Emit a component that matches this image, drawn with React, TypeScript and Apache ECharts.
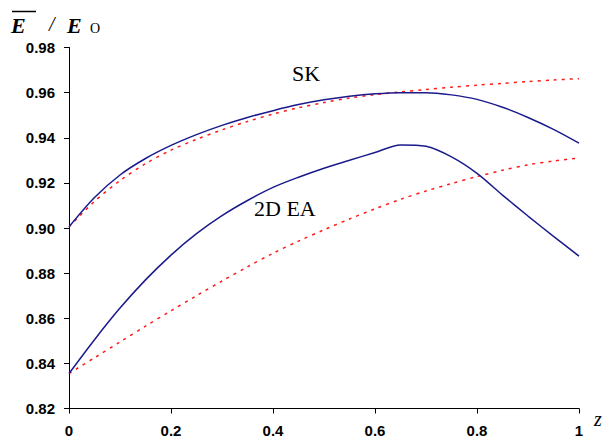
import React, { useEffect, useRef } from "react";
import * as echarts from "echarts";

const zValues = [0, 0.05, 0.1, 0.15, 0.2, 0.25, 0.3, 0.35, 0.4, 0.45, 0.5, 0.55, 0.6, 0.65, 0.7, 0.75, 0.8, 0.85, 0.9, 0.95, 1.0];
const skSolid = [0.9005, 0.9135, 0.9235, 0.9308, 0.9366, 0.9414, 0.9455, 0.949, 0.952, 0.9547, 0.9568, 0.9584, 0.9595, 0.96, 0.96, 0.959, 0.957, 0.9535, 0.949, 0.9437, 0.9376];
const skDotted = [0.9005, 0.9118, 0.921, 0.9285, 0.9345, 0.9393, 0.9435, 0.9472, 0.9505, 0.9533, 0.9556, 0.9576, 0.9591, 0.9603, 0.9614, 0.9624, 0.9633, 0.9641, 0.9649, 0.9656, 0.9662];
const eaSolid = [0.8355, 0.8505, 0.8645, 0.877, 0.888, 0.8975, 0.9055, 0.9122, 0.918, 0.9225, 0.9265, 0.93, 0.9335, 0.9368, 0.9362, 0.9315, 0.9242, 0.9146, 0.9053, 0.8963, 0.8875];
const eaDotted = [0.8355, 0.8425, 0.8495, 0.8565, 0.8633, 0.87, 0.8765, 0.8828, 0.8888, 0.8942, 0.8992, 0.904, 0.9085, 0.9127, 0.9164, 0.9197, 0.9228, 0.9256, 0.928, 0.9297, 0.931];

const pairs = (ys: number[]) => zValues.map((x, i) => [x, ys[i]]);

const serif = "'Liberation Serif', 'Times New Roman', 'DejaVu Serif', serif";

export default function App() {
  const ref = useRef<HTMLDivElement>(null);
  useEffect(() => {
    if (!ref.current) return;
    const chart = echarts.init(ref.current, null, { renderer: "svg" });
    const axisLabel = { color: "#000", fontFamily: "Liberation Sans", fontWeight: "bold" as const, fontSize: 15 };
    const solid = { color: "#1a1a8c", width: 1.5, type: "solid" as const };
    const dotted = { color: "#ff1a1a", width: 1.5, type: [3, 5] as any };
    chart.setOption({
      animation: false,
      backgroundColor: "#fff",
      grid: { left: 69, right: 27, top: 47.5, bottom: 39.5, containLabel: false },
      xAxis: {
        type: "value", min: 0, max: 1, interval: 0.2,
        axisLine: { show: true, lineStyle: { color: "#000", width: 1 } },
        axisTick: { show: true, inside: false, length: 5, lineStyle: { color: "#000" } },
        splitLine: { show: false },
        axisLabel: { ...axisLabel, margin: 14, formatter: (v: number) => String(Math.round(v * 10) / 10) },
      },
      yAxis: {
        type: "value", min: 0.82, max: 0.98, interval: 0.02,
        axisLine: { show: true, lineStyle: { color: "#000", width: 1 } },
        axisTick: { show: true, inside: false, length: 5, lineStyle: { color: "#000" } },
        splitLine: { show: false },
        axisLabel: { ...axisLabel, margin: 14, formatter: (v: number) => v.toFixed(2) },
      },
      series: [
        { type: "line", data: pairs(skDotted), smooth: 0.3, symbol: "none", lineStyle: dotted, z: 2 },
        { type: "line", data: pairs(eaDotted), smooth: 0.3, symbol: "none", lineStyle: dotted, z: 2 },
        { type: "line", data: pairs(skSolid), smooth: 0.3, symbol: "none", lineStyle: solid, z: 3 },
        { type: "line", data: pairs(eaSolid), smooth: 0.3, symbol: "none", lineStyle: solid, z: 3 },
      ],
      graphic: [
        { type: "line", shape: { x1: 12, y1: 11.5, x2: 36, y2: 11.5 }, style: { stroke: "#000", lineWidth: 1.5 } },
        { type: "text", x: 11, y: 14, style: { text: "E", font: "italic bold 22px " + serif, fill: "#000" } },
        { type: "text", x: 49, y: 14, style: { text: "/", font: "italic 20px " + serif, fill: "#000" } },
        { type: "text", x: 67, y: 14, style: { text: "E", font: "italic bold 22px " + serif, fill: "#000" } },
        { type: "text", x: 90, y: 21, style: { text: "O", font: "14px " + serif, fill: "#000" } },
        { type: "text", x: 594, y: 409, style: { text: "z", font: "italic 20px " + serif, fill: "#000" } },
        { type: "text", x: 292, y: 62, style: { text: "SK", font: "22px " + serif, fill: "#000" } },
        { type: "text", x: 254, y: 197, style: { text: "2D EA", font: "22px " + serif, fill: "#000" } },
      ],
    });
    return () => chart.dispose();
  }, []);
  return <div ref={ref} style={{ width: 606, height: 448, position: "absolute", left: 0, top: 0 }} />;
}
